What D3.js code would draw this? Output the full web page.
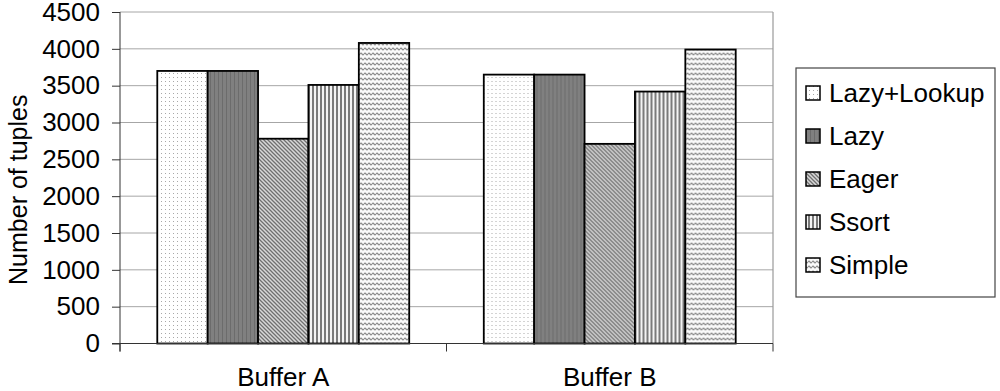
<!DOCTYPE html>
<html>
<head>
<meta charset="utf-8">
<script src="https://cdn.jsdelivr.net/npm/d3@7"></script>
<style>
  body { margin: 0; background: #fff; }
  text { font-family: Arial, "Liberation Sans", sans-serif; fill: #000; }
</style>
</head>
<body>
<script>
// categories, series and values
var categories = ["Buffer A", "Buffer B"];
var series = ["Lazy+Lookup", "Lazy", "Eager", "Ssort", "Simple"];
var bufferA = [3700, 3700, 2780, 3510, 4080];
var bufferB = [3650, 3650, 2710, 3420, 3990];
var yTicks = [0, 500, 1000, 1500, 2000, 2500, 3000, 3500, 4000, 4500];

var data = categories.map(function(c, i) {
  var vals = i === 0 ? bufferA : bufferB;
  return { cat: c, values: series.map(function(s, j) { return { key: s, value: vals[j] }; }) };
});

var W = 1000, H = 391;
var margin = {top: 12, right: 227, bottom: 47.5, left: 120};
var width = W - margin.left - margin.right,
    height = H - margin.top - margin.bottom;
var fs = 26;

var svg = d3.select("body").append("svg")
  .attr("width", W)
  .attr("height", H);

// fill patterns, one per series
var defs = svg.append("defs");
function pat(id, w, h) {
  return defs.append("pattern").attr("id", id)
    .attr("patternUnits", "userSpaceOnUse").attr("width", w).attr("height", h);
}
// Lazy+Lookup: white with sparse dots
var p0 = pat("p0", 4, 4);
p0.append("rect").attr("width", 4).attr("height", 4).attr("fill", "#fff");
p0.append("rect").attr("x", 1).attr("y", 1).attr("width", 1).attr("height", 1).attr("fill", "#a8a8a8");
// Lazy: dark grey with faint vertical lines
var p1 = pat("p1", 4, 4);
p1.append("rect").attr("width", 4).attr("height", 4).attr("fill", "#808080");
p1.append("rect").attr("x", 2).attr("width", 1).attr("height", 4).attr("fill", "#6c6c6c");
// Eager: fine diagonal hatching
var p2 = pat("p2", 4, 4);
p2.append("rect").attr("width", 4).attr("height", 4).attr("fill", "#d8d8d8");
p2.append("path").attr("d", "M-1,-1 L5,5 M-1,3 L1,5 M3,-1 L5,1")
  .attr("stroke", "#707070").attr("stroke-width", 1.3);
// Ssort: vertical stripes
var p3 = pat("p3", 4, 4);
p3.append("rect").attr("width", 4).attr("height", 4).attr("fill", "#f4f4f4");
p3.append("rect").attr("x", 0).attr("width", 2).attr("height", 4).attr("fill", "#7a7a7a");
// Simple: wavy horizontal lines
var p4 = pat("p4", 4, 5);
p4.append("rect").attr("width", 4).attr("height", 5).attr("fill", "#fafafa");
p4.append("path").attr("d", "M0,2 L1,1 L2,2 L3,3 L4,2")
  .attr("stroke", "#8c8c8c").attr("stroke-width", 1.2).attr("fill", "none");

var fills = d3.scaleOrdinal().domain(series)
  .range(["url(#p0)", "url(#p1)", "url(#p2)", "url(#p3)", "url(#p4)"]);

var g = svg.append("g")
  .attr("transform", "translate(" + margin.left + "," + margin.top + ")");

// scales
var x0 = d3.scaleBand().domain(categories).range([0, width]).padding(0);
var x1 = d3.scaleBand().domain(series).range([0, x0.bandwidth()])
  .paddingInner(0).paddingOuter(0.74);
var y = d3.scaleLinear().domain([0, 4500]).range([height, 0]);

// gridlines
g.append("g").selectAll("line")
  .data(yTicks.filter(function(d) { return d > 0; }))
  .enter().append("line")
  .attr("x1", 0).attr("x2", width)
  .attr("y1", function(d) { return y(d); })
  .attr("y2", function(d) { return y(d); })
  .attr("stroke", "#a6a6a6").attr("stroke-width", 1);

// right border of plot area
g.append("line")
  .attr("x1", width).attr("x2", width).attr("y1", 0).attr("y2", height)
  .attr("stroke", "#999").attr("stroke-width", 1.2);

// bars
var groups = g.selectAll(".grp").data(data).enter().append("g")
  .attr("class", "grp")
  .attr("transform", function(d) { return "translate(" + x0(d.cat) + ",0)"; });

groups.selectAll("rect").data(function(d) { return d.values; })
  .enter().append("rect")
  .attr("x", function(d) { return x1(d.key); })
  .attr("y", function(d) { return y(d.value); })
  .attr("width", x1.bandwidth())
  .attr("height", function(d) { return height - y(d.value); })
  .attr("fill", function(d) { return fills(d.key); })
  .attr("stroke", "#000").attr("stroke-width", 1.8);

// y axis
var yAxis = g.append("g")
  .call(d3.axisLeft(y).tickValues(yTicks).tickSize(8).tickPadding(12).tickFormat(d3.format("d")));
yAxis.select(".domain").remove();
yAxis.append("line").attr("x1", 0).attr("x2", 0).attr("y1", 0).attr("y2", height + 8)
  .attr("stroke", "#333");
yAxis.selectAll(".tick line").attr("stroke", "#333");
yAxis.selectAll(".tick text")
  .attr("font-size", fs).attr("fill", "#000")
  .attr("font-family", "Arial, 'Liberation Sans', sans-serif");

// x axis
var xAxis = g.append("g").attr("transform", "translate(0," + height + ")");
xAxis.append("line").attr("x1", -8).attr("x2", width).attr("y1", 0).attr("y2", 0)
  .attr("stroke", "#333");
xAxis.selectAll(".sep").data(categories.concat(["end"])).enter().append("line")
  .attr("x1", function(d, i) { return i * x0.step(); })
  .attr("x2", function(d, i) { return i * x0.step(); })
  .attr("y1", 0).attr("y2", 8).attr("stroke", "#333");
xAxis.selectAll(".lab").data(categories).enter().append("text")
  .attr("x", function(d) { return x0(d) + x0.bandwidth() / 2; })
  .attr("y", 42)
  .attr("text-anchor", "middle")
  .attr("font-size", fs)
  .text(function(d) { return d; });

// y axis title
svg.append("text")
  .attr("transform", "translate(27," + (margin.top + height / 2 + 12) + ") rotate(-90)")
  .attr("text-anchor", "middle")
  .attr("font-size", 25)
  .text("Number of tuples");

// legend
var leg = svg.append("g").attr("transform", "translate(796,68)");
leg.append("rect").attr("width", 199).attr("height", 229)
  .attr("fill", "#fff").attr("stroke", "#444").attr("stroke-width", 1.2);
var items = leg.selectAll(".item").data(series).enter().append("g")
  .attr("transform", function(d, i) { return "translate(0," + (25 + i * 43) + ")"; });
items.append("rect").attr("x", 10).attr("y", -7).attr("width", 14).attr("height", 14)
  .attr("fill", function(d) { return fills(d); })
  .attr("stroke", "#000").attr("stroke-width", 1.5);
items.append("text").attr("x", 33).attr("y", 9)
  .attr("font-size", fs)
  .text(function(d) { return d; });
</script>
</body>
</html>
